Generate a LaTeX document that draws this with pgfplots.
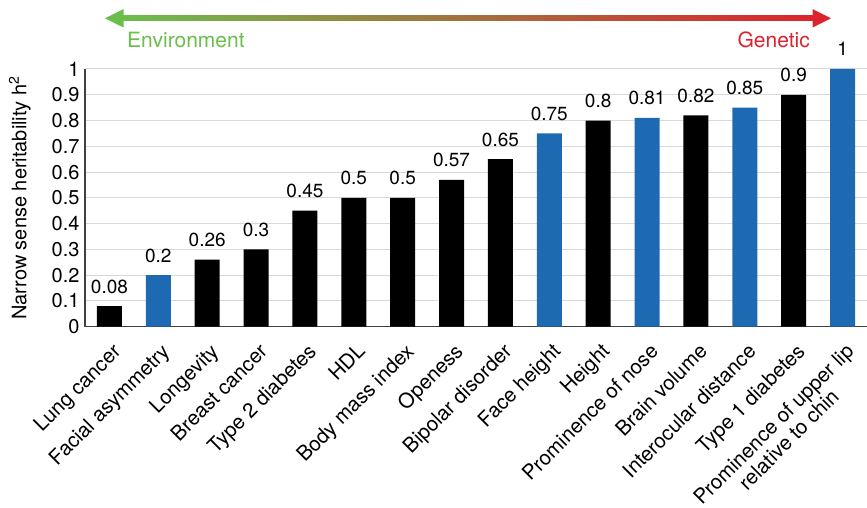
\documentclass[border=0pt]{standalone}
\usepackage{fontspec}
\setmainfont{TeX Gyre Heros}
\usepackage{pgfplots}
\usepackage{pgfplotstable}
\pgfplotsset{compat=1.18}
\definecolor{barblue}{RGB}{30,106,178}
\definecolor{envgreen}{RGB}{108,190,75}
\definecolor{midolive}{RGB}{163,142,58}
\definecolor{genred}{RGB}{220,35,45}
\definecolor{gridgray}{RGB}{217,217,217}
\definecolor{axisgray}{RGB}{64,64,64}

\pgfplotstableread{
x y lab
0 0.08 0.08
2 0.26 0.26
3 0.30 0.3
4 0.45 0.45
5 0.50 0.5
6 0.50 0.5
7 0.57 0.57
8 0.65 0.65
10 0.80 0.8
12 0.82 0.82
14 0.90 0.9
}\blackbars

\pgfplotstableread{
x y lab
1 0.20 0.2
9 0.75 0.75
11 0.81 0.81
13 0.85 0.85
15 1.00 1
}\bluebars

\begin{document}
\begin{tikzpicture}[x=1pt,y=1pt]
\useasboundingbox (-85,-181.3) rectangle (782,326.7);
\begin{axis}[
  at={(0,0)}, anchor=south west,
  width=782pt, height=257.7pt, scale only axis,
  xmin=-0.5, xmax=15.5, ymin=0, ymax=1,
  axis x line*=bottom, axis y line*=left,
  axis line style={axisgray, line width=1.3pt, -},
  ytick={0,0.1,0.2,0.3,0.4,0.5,0.6,0.7,0.8,0.9,1},
  ymajorgrids, grid style={gridgray, line width=1pt},
  major tick length=0pt,
  xtick={0,...,15},
  xticklabels={Lung cancer, Facial asymmetry, Longevity, Breast cancer, Type 2 diabetes, HDL, Body mass index, Openess, Bipolar disorder, Face height, Height, Prominence of nose, Brain volume, Interocular distance, Type 1 diabetes, {Prominence of upper lip\\relative to chin}},
  /pgf/number format/assume math mode=true,
  y tick label style={font=\fontsize{20}{20}\selectfont, xshift=-2pt},
  x tick label style={font=\fontsize{20.5}{21.5}\selectfont, rotate=45, anchor=north east, xshift=-6.2pt, yshift=-8.8pt, align=center},
  ylabel={Narrow sense heritability h\textsuperscript{2}},
  ylabel style={font=\fontsize{20}{20}\selectfont},
  ylabel shift=14pt,
  nodes near coords style={font=\fontsize{19}{19}\selectfont, anchor=base, yshift=13pt, inner sep=0pt},
]
\addplot[ybar, bar width=25pt, bar shift=0pt, fill=black, draw=none,
  point meta=explicit symbolic, nodes near coords] table[x=x, y=y, meta=lab] {\blackbars};
\addplot[ybar, bar width=25pt, bar shift=0pt, fill=barblue, draw=none,
  point meta=explicit symbolic, nodes near coords] table[x=x, y=y, meta=lab] {\bluebars};
\end{axis}
\shade[left color=envgreen, middle color=midolive, right color=genred] (37,306) rectangle (729,310.8);
\fill[envgreen] (20,308.4) -- (38.5,317.6) -- (38.5,299.2) -- cycle;
\fill[genred] (746,308.4) -- (727.5,317.6) -- (727.5,299.2) -- cycle;
\node[anchor=base west, text=envgreen, inner sep=0pt, font=\fontsize{21}{21}\selectfont] at (42,278.7) {Environment};
\node[anchor=base east, text=genred, inner sep=0pt, font=\fontsize{21}{21}\selectfont] at (725,278.7) {Genetic};
\end{tikzpicture}
\end{document}
